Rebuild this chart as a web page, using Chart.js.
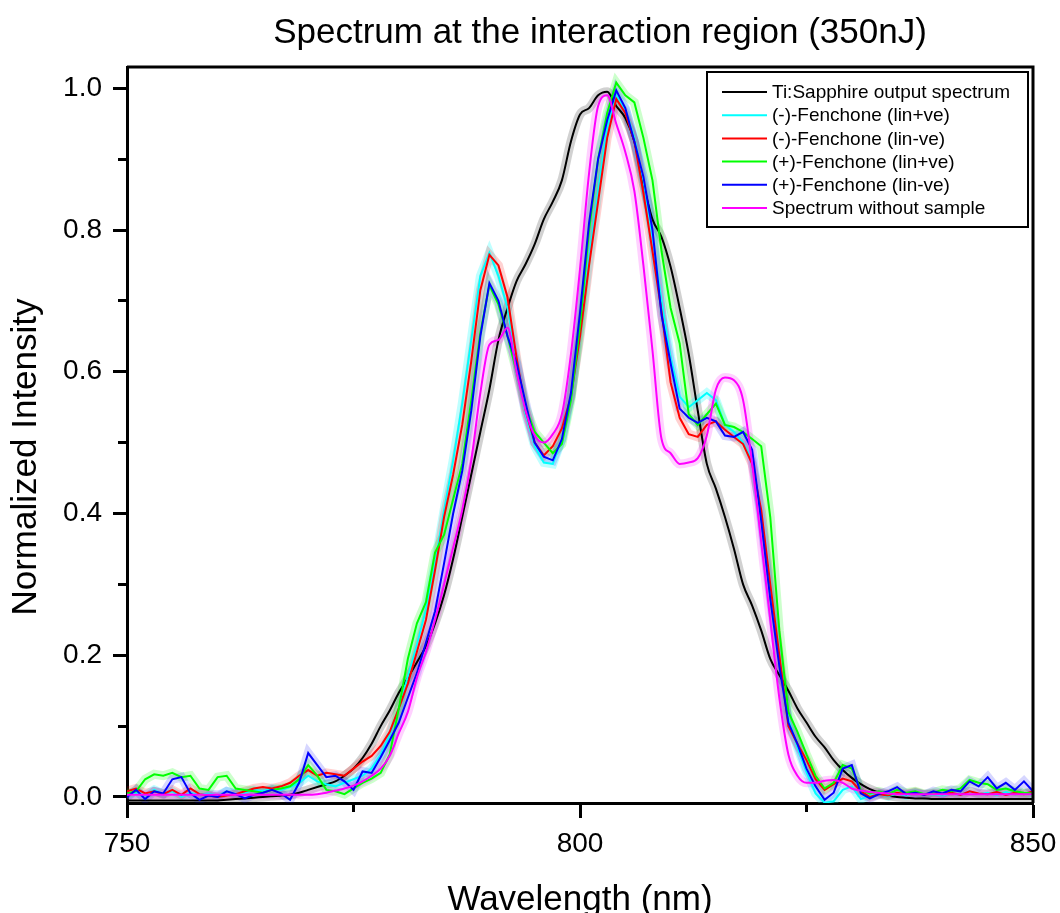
<!DOCTYPE html>
<html>
<head>
<meta charset="utf-8">
<title>Spectrum at the interaction region (350nJ)</title>
<script src="https://cdn.jsdelivr.net/npm/chart.js@4.4.1/dist/chart.umd.min.js"></script>
<style>
  html, body { margin: 0; padding: 0; background: #fff; }
  #wrap { position: relative; width: 1060px; height: 913px; }
</style>
</head>
<body>
<div id="wrap"><canvas id="spectrum"></canvas></div>
<script>
// Wavelength grid (nm), 1 nm steps
const WAVELENGTH = [
  750, 751, 752, 753, 754, 755, 756, 757, 758, 759, 760,
  761, 762, 763, 764, 765, 766, 767, 768, 769, 770,
  771, 772, 773, 774, 775, 776, 777, 778, 779, 780,
  781, 782, 783, 784, 785, 786, 787, 788, 789, 790,
  791, 792, 793, 794, 795, 796, 797, 798, 799, 800,
  801, 802, 803, 804, 805, 806, 807, 808, 809, 810,
  811, 812, 813, 814, 815, 816, 817, 818, 819, 820,
  821, 822, 823, 824, 825, 826, 827, 828, 829, 830,
  831, 832, 833, 834, 835, 836, 837, 838, 839, 840,
  841, 842, 843, 844, 845, 846, 847, 848, 849, 850
];

const TI_SAPPHIRE = [
  -0.005, -0.005, -0.005, -0.005, -0.005, -0.005, -0.005, -0.005, -0.005, -0.005, -0.005,
  -0.004, -0.003, -0.002, -0.001, 0.000, 0.001, 0.002, 0.003, 0.006, 0.010,
  0.014, 0.018, 0.022, 0.030, 0.040, 0.055, 0.075, 0.100, 0.122, 0.147,
  0.168, 0.190, 0.213, 0.245, 0.285, 0.336, 0.395, 0.455, 0.515, 0.575,
  0.645, 0.690, 0.728, 0.752, 0.780, 0.815, 0.840, 0.870, 0.925, 0.963,
  0.972, 0.990, 0.995, 0.975, 0.958, 0.925, 0.865, 0.815, 0.790, 0.748,
  0.690, 0.625, 0.545, 0.470, 0.435, 0.395, 0.350, 0.300, 0.270, 0.235,
  0.195, 0.172, 0.150, 0.125, 0.105, 0.085, 0.070, 0.052, 0.038, 0.027,
  0.018, 0.011, 0.006, 0.002, 0.000, -0.001, -0.002, -0.002, -0.003, -0.003,
  -0.003, -0.003, -0.003, -0.003, -0.003, -0.003, -0.003, -0.003, -0.003, -0.003
];

const MINUS_LINPOS = [
  0.003, 0.006, 0.002, 0.010, 0.004, 0.008, 0.000, 0.006, 0.003, 0.005, 0.002,
  0.008, 0.004, 0.006, 0.010, 0.008, 0.012, 0.010, 0.014, 0.020, 0.030,
  0.022, 0.018, 0.015, 0.020, 0.025, 0.030, 0.040, 0.060, 0.088, 0.125,
  0.170, 0.215, 0.265, 0.330, 0.405, 0.475, 0.555, 0.645, 0.735, 0.768,
  0.735, 0.690, 0.615, 0.540, 0.495, 0.472, 0.470, 0.505, 0.565, 0.655,
  0.760, 0.855, 0.945, 0.990, 0.970, 0.930, 0.870, 0.790, 0.700, 0.620,
  0.565, 0.550, 0.560, 0.570, 0.560, 0.525, 0.515, 0.500, 0.475, 0.400,
  0.290, 0.190, 0.110, 0.070, 0.035, 0.005, -0.008, -0.006, 0.010, 0.015,
  -0.003, 0.002, 0.004, 0.001, 0.005, 0.002, 0.006, 0.003, 0.004, 0.002,
  0.005, 0.003, 0.008, 0.004, 0.006, 0.003, 0.007, 0.004, 0.005, 0.003
];

const MINUS_LINNEG = [
  0.008, 0.012, 0.005, 0.008, 0.004, 0.010, 0.003, 0.012, 0.004, 0.002, 0.000,
  0.002, 0.004, 0.008, 0.012, 0.014, 0.012, 0.015, 0.020, 0.030, 0.038,
  0.030, 0.034, 0.032, 0.030, 0.040, 0.050, 0.058, 0.072, 0.092, 0.125,
  0.160, 0.205, 0.250, 0.320, 0.395, 0.455, 0.525, 0.615, 0.715, 0.765,
  0.750, 0.705, 0.620, 0.545, 0.500, 0.482, 0.495, 0.520, 0.565, 0.650,
  0.750, 0.840, 0.930, 0.985, 0.965, 0.925, 0.852, 0.770, 0.685, 0.585,
  0.535, 0.512, 0.508, 0.525, 0.530, 0.518, 0.508, 0.498, 0.470, 0.405,
  0.300, 0.200, 0.100, 0.075, 0.052, 0.025, 0.010, 0.018, 0.026, 0.022,
  0.008, 0.000, 0.004, 0.002, 0.006, 0.004, 0.007, 0.003, 0.005, 0.004,
  0.006, 0.003, 0.008, 0.005, 0.004, 0.007, 0.003, 0.006, 0.004, 0.008
];

const PLUS_LINPOS = [
  0.005, 0.008, 0.025, 0.032, 0.030, 0.034, 0.028, 0.030, 0.012, 0.010, 0.028,
  0.030, 0.012, 0.010, 0.008, 0.006, 0.010, 0.012, 0.015, 0.025, 0.045,
  0.030, 0.010, 0.008, 0.004, 0.012, 0.020, 0.026, 0.034, 0.060, 0.125,
  0.195, 0.245, 0.275, 0.345, 0.370, 0.420, 0.470, 0.560, 0.655, 0.722,
  0.695, 0.650, 0.600, 0.550, 0.515, 0.500, 0.485, 0.498, 0.560, 0.665,
  0.800, 0.900, 0.965, 1.008, 0.990, 0.980, 0.930, 0.870, 0.770, 0.690,
  0.640, 0.540, 0.525, 0.540, 0.555, 0.525, 0.522, 0.515, 0.505, 0.495,
  0.395, 0.235, 0.120, 0.092, 0.060, 0.030, 0.012, 0.020, 0.045, 0.040,
  0.010, 0.005, 0.008, 0.004, 0.010, 0.006, 0.008, 0.004, 0.006, 0.010,
  0.008, 0.012, 0.024, 0.020, 0.018, 0.010, 0.012, 0.008, 0.006, 0.005
];

const PLUS_LINNEG = [
  0.000, 0.010, -0.003, 0.008, 0.005, 0.025, 0.028, 0.005, -0.004, 0.002, 0.000,
  0.008, 0.004, -0.002, 0.003, 0.006, 0.010, 0.005, -0.004, 0.020, 0.062,
  0.045, 0.028, 0.030, 0.022, 0.010, 0.036, 0.034, 0.056, 0.080, 0.105,
  0.140, 0.175, 0.218, 0.262, 0.330, 0.400, 0.460, 0.545, 0.650, 0.725,
  0.700, 0.650, 0.612, 0.556, 0.500, 0.480, 0.475, 0.505, 0.570, 0.683,
  0.810, 0.900, 0.955, 0.997, 0.972, 0.925, 0.875, 0.800, 0.680, 0.612,
  0.548, 0.535, 0.528, 0.535, 0.530, 0.510, 0.508, 0.515, 0.490, 0.390,
  0.280, 0.185, 0.105, 0.075, 0.040, 0.015, -0.004, 0.006, 0.040, 0.045,
  0.005, -0.002, 0.004, 0.008, 0.014, 0.004, 0.006, 0.003, 0.008, 0.005,
  0.010, 0.008, 0.022, 0.015, 0.028, 0.012, 0.020, 0.010, 0.022, 0.008
];

const NO_SAMPLE = [
  0.003, 0.003, 0.003, 0.003, 0.003, 0.003, 0.003, 0.003, 0.003, 0.003, 0.003,
  0.003, 0.003, 0.003, 0.003, 0.003, 0.003, 0.003, 0.003, 0.003, 0.003,
  0.004, 0.006, 0.009, 0.012, 0.016, 0.022, 0.030, 0.040, 0.058, 0.090,
  0.120, 0.168, 0.205, 0.250, 0.300, 0.352, 0.405, 0.475, 0.570, 0.638,
  0.645, 0.662, 0.600, 0.545, 0.510, 0.500, 0.512, 0.540, 0.625, 0.745,
  0.880, 0.975, 0.990, 0.950, 0.910, 0.855, 0.750, 0.630, 0.505, 0.485,
  0.470, 0.472, 0.478, 0.510, 0.575, 0.592, 0.588, 0.560, 0.470, 0.360,
  0.250, 0.140, 0.060, 0.030, 0.020, 0.020, 0.023, 0.024, 0.020, 0.012,
  0.009, 0.007, 0.006, 0.005, 0.004, 0.004, 0.004, 0.004, 0.004, 0.004,
  0.004, 0.004, 0.004, 0.004, 0.004, 0.004, 0.004, 0.004, 0.004, 0.004
];

const X_MAJOR = [750, 800, 850];
const X_MINOR = [775, 825];
const Y_MAJOR = [0, 0.2, 0.4, 0.6, 0.8, 1.0];
const Y_MINOR = [0.1, 0.3, 0.5, 0.7, 0.9];

// legend order = plot order (later ones on top)
const SERIES = [
  { label: "Ti:Sapphire output spectrum", values: TI_SAPPHIRE, color: "#000000", band: "rgba(0,0,0,0.18)", smooth: true },
  { label: "(-)-Fenchone (lin+ve)", values: MINUS_LINPOS, color: "#00FFFF", band: "rgba(0,255,255,0.25)" },
  { label: "(-)-Fenchone (lin-ve)", values: MINUS_LINNEG, color: "#FF0000", band: "rgba(255,0,0,0.18)" },
  { label: "(+)-Fenchone (lin+ve)", values: PLUS_LINPOS, color: "#00FF00", band: "rgba(0,255,0,0.2)" },
  { label: "(+)-Fenchone (lin-ve)", values: PLUS_LINNEG, color: "#0000FF", band: "rgba(0,0,255,0.16)" },
  { label: "Spectrum without sample", values: NO_SAMPLE, color: "#FF00FF", band: "rgba(255,0,255,0.18)", smooth: true },
];

const FONT = '"Liberation Sans", Arial, sans-serif';

const points = (vals) => WAVELENGTH.map((x, i) => ({ x, y: vals[i] }));

const datasets = [];
SERIES.forEach((s, i) => {
  datasets.push({
    label: s.label,
    data: points(s.values),
    borderColor: s.color,
    borderWidth: 2,
    pointRadius: 0,
    tension: 0,
    cubicInterpolationMode: s.smooth ? "monotone" : "default",
    order: SERIES.length - i,
  });
});
// shaded spread behind each curve
SERIES.forEach((s, i) => {
  datasets.push({
    label: s.label + " spread",
    data: points(s.values),
    borderColor: s.band,
    borderWidth: 9,
    pointRadius: 0,
    tension: 0,
    cubicInterpolationMode: s.smooth ? "monotone" : "default",
    order: 20 + SERIES.length - i,
  });
});

// title, y title, top/right frame, boxed legend
const decorations = {
  id: "decorations",
  afterDraw(chart) {
    const { ctx, chartArea: a } = chart;
    ctx.save();

    ctx.strokeStyle = "#000";
    ctx.lineWidth = 3;
    ctx.beginPath();
    ctx.moveTo(a.left, a.top);
    ctx.lineTo(a.right, a.top);
    ctx.lineTo(a.right, a.bottom);
    ctx.stroke();

    ctx.fillStyle = "#000";
    ctx.textAlign = "center";
    ctx.textBaseline = "middle";
    ctx.font = `35px ${FONT}`;
    ctx.fillText("Spectrum at the interaction region (350nJ)", 600, 33);

    ctx.save();
    ctx.translate(26, 457);
    ctx.rotate(-Math.PI / 2);
    ctx.fillText("Normalized Intensity", 0, 0);
    ctx.restore();

    // legend box
    const bx = a.right - 326, by = a.top + 5, bw = 321, bh = 155;
    ctx.fillStyle = "#fff";
    ctx.fillRect(bx, by, bw, bh);
    ctx.lineWidth = 2;
    ctx.strokeRect(bx, by, bw, bh);
    ctx.font = `19px ${FONT}`;
    ctx.textAlign = "left";
    SERIES.forEach((s, i) => {
      const yy = by + 20 + i * 23.2;
      ctx.strokeStyle = s.color;
      ctx.beginPath();
      ctx.moveTo(bx + 15, yy);
      ctx.lineTo(bx + 60, yy);
      ctx.stroke();
      ctx.fillStyle = "#000";
      ctx.fillText(s.label, bx + 65, yy + 1);
    });
    ctx.restore();
  },
};

const tickFont = { family: FONT, size: 28 };

new Chart(document.getElementById("spectrum"), {
  type: "line",
  data: { datasets },
  plugins: [decorations],
  options: {
    responsive: true,
    maintainAspectRatio: false,
    animation: false,
    layout: { padding: { top: 67, right: 27, left: 0, bottom: 0 } },
    plugins: { legend: { display: false }, tooltip: { enabled: false } },
    scales: {
      x: {
        type: "linear", position: "bottom", min: 750, max: 850, weight: 1,
        afterBuildTicks: (axis) => { axis.ticks = X_MAJOR.map((v) => ({ value: v })); },
        afterFit: (axis) => { axis.height = 110; axis.paddingLeft = 0; axis.paddingRight = 0; },
        grid: { drawOnChartArea: false, tickLength: 15, tickWidth: 3, tickColor: "#000" },
        border: { display: true, color: "#000", width: 3 },
        ticks: { font: tickFont, color: "#000", padding: 9, maxRotation: 0, autoSkip: false, callback: (v) => String(v) },
        title: { display: true, text: "Wavelength (nm)", color: "#000", font: { family: FONT, size: 35, lineHeight: 0.7 }, padding: 0 },
      },
      xMinor: {
        type: "linear", position: "bottom", min: 750, max: 850, weight: 0,
        afterBuildTicks: (axis) => { axis.ticks = X_MINOR.map((v) => ({ value: v })); },
        afterFit: (axis) => { axis.height = 0; axis.paddingLeft = 0; axis.paddingRight = 0; },
        grid: { drawOnChartArea: false, tickLength: 9, tickWidth: 3, tickColor: "#000" },
        border: { display: false },
        ticks: { display: false },
      },
      y: {
        type: "linear", position: "left", min: -0.0085, max: 1.03, weight: 1,
        afterBuildTicks: (axis) => { axis.ticks = Y_MAJOR.map((v) => ({ value: v })); },
        afterFit: (axis) => { axis.width = 127; },
        grid: { drawOnChartArea: false, tickLength: 14, tickWidth: 3, tickColor: "#000" },
        border: { display: true, color: "#000", width: 3 },
        ticks: { font: tickFont, color: "#000", padding: 11, callback: (v) => v.toFixed(1) },
      },
      yMinor: {
        type: "linear", position: "left", min: -0.0085, max: 1.03, weight: 0,
        afterBuildTicks: (axis) => { axis.ticks = Y_MINOR.map((v) => ({ value: v })); },
        afterFit: (axis) => { axis.width = 0; },
        grid: { drawOnChartArea: false, tickLength: 9, tickWidth: 3, tickColor: "#000" },
        border: { display: false },
        ticks: { display: false },
      },
    },
  },
});
</script>
</body>
</html>
